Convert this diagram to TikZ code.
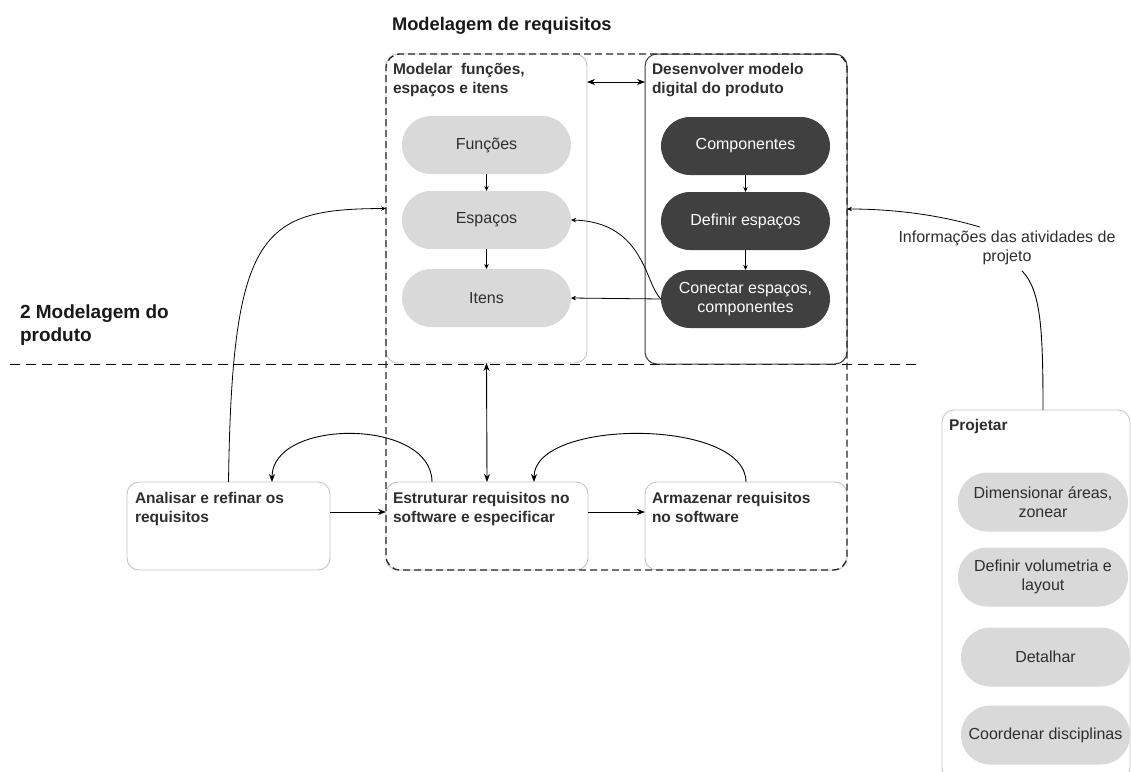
\documentclass[tikz,border=0pt]{standalone}
\usepackage{fontspec}
\setmainfont{Liberation Sans}
\usetikzlibrary{arrows.meta}
\definecolor{pillgray}{HTML}{D9D9D9}
\definecolor{pilldark}{HTML}{404040}
\definecolor{txtgray}{HTML}{2E2E2E}
\definecolor{edgelight}{HTML}{C4C4C4}
\definecolor{edgedark}{HTML}{3A3A3A}
\begin{document}
\begin{tikzpicture}[x=1pt,y=-1pt,
  every node/.style={inner sep=0pt, outer sep=0pt},
  panel/.style={draw=edgelight, line width=0.9pt, rounded corners=12pt},
  darkpanel/.style={draw=edgedark, line width=1pt, rounded corners=12pt},
  groupbox/.style={draw=black!85, line width=1.3pt, dash pattern=on 7pt off 4pt, rounded corners=14pt},
  head/.style={font=\bfseries\fontsize{15.5}{19.5}\selectfont, text=txtgray, align=left},
  title/.style={font=\bfseries\fontsize{19}{23}\selectfont, text=black!90, align=left},
  lightpill/.style={rounded corners=29pt, minimum width=169, minimum height=58, fill=pillgray,
    text=txtgray, font=\fontsize{16}{19.5}\selectfont, align=center},
  darkpill/.style={lightpill, fill=pilldark, text=white},
  plain/.style={text=txtgray, font=\fontsize{16}{19}\selectfont, align=center},
  arr/.style={-{Stealth[length=8pt,width=6pt]}, line width=0.9pt},
  dblarr/.style={{Stealth[length=8pt,width=6pt]}-{Stealth[length=8pt,width=6pt]}, line width=0.9pt},
  smallarr/.style={-{Stealth[length=5pt,width=4.5pt]}, line width=0.8pt}]

\useasboundingbox (0,0) rectangle (1131,771);

% titles
\node[title, font=\bfseries\fontsize{18.3}{22}\selectfont, anchor=base west] (reqtitle) at (392,30) {Modelagem de requisitos};
\node[title, anchor=north west] (prodtitle) at (20,305) {2 Modelagem do\\produto};

% separator between the two levels
\coordinate (sepL) at (10,364);
\coordinate (sepR) at (922,364);
\draw[line width=1pt, dash pattern=on 10pt off 6pt] (sepL) -- (sepR);

% upper panels
\node[panel, minimum width=201, minimum height=309] (modbox) at (486.5,208.5) {};
\node[darkpanel, minimum width=202, minimum height=310] (desbox) at (746,209) {};
\node[head, anchor=north west] (modtitle) at (393,63) {Modelar\ \ funções,\\espaços e itens};
\node[head, anchor=north west] (destitle) at (652,63) {Desenvolver modelo\\digital do produto};

% lower panels
\node[panel, minimum width=203, minimum height=88] (ana) at (228.5,526) {};
\node[panel, minimum width=202, minimum height=88] (estr) at (487,526) {};
\node[panel, minimum width=202, minimum height=88] (arm) at (746,526) {};
\node[head, anchor=north west] (anatxt) at (135,492) {Analisar e refinar os\\requisitos};
\node[head, anchor=north west] (estrtxt) at (393,492) {Estruturar requisitos no\\software e especificar};
\node[head, anchor=north west] (armtxt) at (652,492) {Armazenar requisitos\\no software};

% design panel on the right
\node[panel, minimum width=188, minimum height=370] (proj) at (1036,595) {};
\node[head, anchor=north west] (projtxt) at (949,419) {Projetar};

% pills
\node[lightpill] (fun) at (486.5,145) {Funções};
\node[lightpill] (esp) at (486.5,220) {Espaços};
\node[lightpill] (ite) at (486.5,298) {Itens};
\node[darkpill] (comp) at (745.5,146) {Componentes};
\node[darkpill] (def) at (745.5,221) {Definir espaços};
\node[darkpill] (con) at (745.5,299) {Conectar espaços,\\componentes};
\node[lightpill, minimum width=170, minimum height=59] (dim) at (1043,502) {Dimensionar áreas,\\zonear};
\node[lightpill, minimum width=170, minimum height=59] (vol) at (1043,577) {Definir volumetria e\\layout};
\node[lightpill, minimum width=169, minimum height=59] (det) at (1045.5,657) {Detalhar};
\node[lightpill, minimum width=169, minimum height=59] (coo) at (1045.5,735) {Coordenar disciplinas};

% dashed grouping of the requirement modelling activities
\node[groupbox, minimum width=461, minimum height=516] (req) at (616.5,312) {};

% label of the incoming information
\node[plain] (info) at (1007,248) {Informações das atividades de\\projeto};

% connectors inside the panels
\draw[smallarr] (fun) -- (esp);
\draw[smallarr] (esp) -- (ite);
\draw[smallarr] (comp) -- (def);
\draw[smallarr] (def) -- (con);
\draw[smallarr] (con.west) -- (ite.east);
\draw[smallarr] (con.west) .. controls (645,285) and (645,222) .. (esp.east);

% connectors between panels
\draw[dblarr] ([yshift=-28pt]modbox.north east) -- ([yshift=-28pt]desbox.north west);
\draw[dblarr] (modbox.south) -- (estr.north);
\draw[smallarr] (ana.north) .. controls (232,230) and (262,209) .. (modbox.west);
\draw[arr] ([yshift=14pt]ana.east) -- ([yshift=14pt]estr.west);
\draw[arr] ([yshift=14pt]estr.east) -- ([yshift=14pt]arm.west);
\draw[arr] ([xshift=-55pt]estr.north) .. controls (432,418) and (272,418) .. ([xshift=43.5pt]ana.north);
\draw[arr] (arm.north) .. controls (746,418) and (534,418) .. ([xshift=47pt]estr.north);
\draw[smallarr] ([xshift=-27pt,yshift=4pt]info.north) .. controls (930,212) and (880,209) .. (desbox.east);
\draw[line width=0.9pt] ([xshift=7pt]proj.north) .. controls (1043,330) and (1041,290) .. ([xshift=15pt,yshift=-6pt]info.south);

\end{tikzpicture}
\end{document}
